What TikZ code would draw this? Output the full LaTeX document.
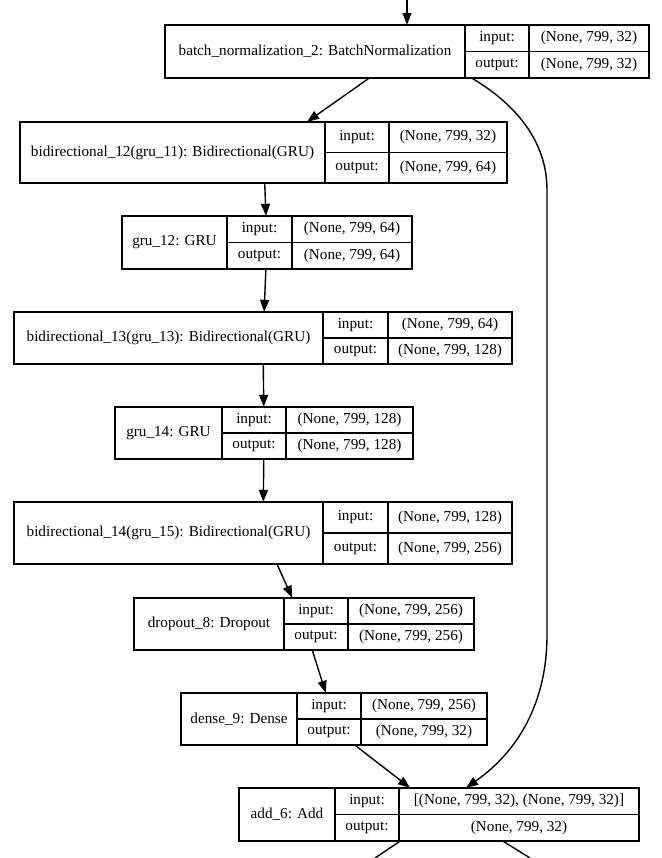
\documentclass[tikz,border=0pt]{standalone}
\usepackage{fontspec}
\setmainfont{Liberation Serif}
\newfontfamily\cellfont{Liberation Serif}
\usetikzlibrary{arrows.meta}
\tikzset{
  cell/.style={draw, line width=1.4pt, inner sep=0pt, font=\cellfont\fontsize{15.2}{18}\selectfont},
  frame/.style={inner sep=0pt, draw=none},
  edge/.style={line width=1.4pt, -{Triangle[length=12pt,width=9pt]}},
  plain/.style={line width=1.4pt},
}
\newcommand\geom[6]{\def\gxa{#1}\def\gxb{#2}\def\gxc{#3}\def\gxd{#4}\def\gya{#5}\def\gyb{#6}}
\newcommand\mklayer[4]{%
  \pgfmathsetmacro\gym{(\gya+\gyb)/2}%
  \node[frame, minimum width={(\gxd-\gxa)*1pt}, minimum height={(\gyb-\gya)*1pt}] (#1) at ({(\gxa+\gxd)/2},{(\gya+\gyb)/2}) {};
  \node[cell, minimum width={(\gxb-\gxa)*1pt}, minimum height={(\gyb-\gya)*1pt}] (#1-t) at ({(\gxa+\gxb)/2},{(\gya+\gyb)/2}) {#2};
  \node[cell, minimum width={(\gxc-\gxb)*1pt}, minimum height={(\gym-\gya)*1pt}] (#1-il) at ({(\gxb+\gxc)/2},{(\gya+\gym)/2}) {input:};
  \node[cell, minimum width={(\gxc-\gxb)*1pt}, minimum height={(\gyb-\gym)*1pt}] (#1-ol) at ({(\gxb+\gxc)/2},{(\gym+\gyb)/2}) {output:};
  \node[cell, minimum width={(\gxd-\gxc)*1pt}, minimum height={(\gym-\gya)*1pt}] (#1-iv) at ({(\gxc+\gxd)/2},{(\gya+\gym)/2}) {#3};
  \node[cell, minimum width={(\gxd-\gxc)*1pt}, minimum height={(\gyb-\gym)*1pt}] (#1-ov) at ({(\gxc+\gxd)/2},{(\gym+\gyb)/2}) {#4};
}
\begin{document}
\begin{tikzpicture}[x=1pt,y=-1pt]
\useasboundingbox[fill=white] (0,0) rectangle (661,858);
\clip (0,0) rectangle (661,858);

\geom{165}{465}{529}{649}{25}{78}
\mklayer{bn}{batch\_normalization\_2: BatchNormalization}{(None, 799, 32)}{(None, 799, 32)}
\geom{20}{325}{389}{507}{122}{183}
\mklayer{bi12}{bidirectional\_12(gru\_11): Bidirectional(GRU)}{(None, 799, 32)}{(None, 799, 64)}
\geom{122}{227}{292}{412}{216}{269}
\mklayer{gru12}{gru\_12: GRU}{(None, 799, 64)}{(None, 799, 64)}
\geom{14}{323}{388}{512}{312}{364}
\mklayer{bi13}{bidirectional\_13(gru\_13): Bidirectional(GRU)}{(None, 799, 64)}{(None, 799, 128)}
\geom{115}{222}{286}{413}{407}{459}
\mklayer{gru14}{gru\_14: GRU}{(None, 799, 128)}{(None, 799, 128)}
\geom{14}{323}{388}{512}{502}{564}
\mklayer{bi14}{bidirectional\_14(gru\_15): Bidirectional(GRU)}{(None, 799, 128)}{(None, 799, 256)}
\geom{134}{284}{348}{474}{598}{650}
\mklayer{drop}{dropout\_8: Dropout}{(None, 799, 256)}{(None, 799, 256)}
\geom{181}{297}{361}{487}{693}{745}
\mklayer{dense}{dense\_9: Dense}{(None, 799, 256)}{(None, 799, 32)}
\geom{239}{335}{399}{639}{788}{841}
\mklayer{add}{add\_6: Add}{[(None, 799, 32), (None, 799, 32)]}{(None, 799, 32)}

\coordinate (in0) at (407,0);
\coordinate (o1) at (375,858);
\coordinate (o2) at (530,858);

\draw[edge] (in0) -- (bn);
\draw[edge] (bn) -- (bi12);
\draw[edge] (bi12) -- (gru12);
\draw[edge] (gru12) -- (bi13);
\draw[edge] (bi13) -- (gru14);
\draw[edge] (gru14) -- (bi14);
\draw[edge] (bi14) -- (drop);
\draw[edge] (drop) -- (dense);
\draw[edge] ([xshift=21pt]dense.south) -- ([xshift=-29pt]add.north);
\draw[edge] ([xshift=65pt]bn.south) .. controls (500,95) and (547,130) .. (547,190)
  -- (547,635) .. controls (547,700) and (520,750) .. ([xshift=27pt]add.north);
\draw[plain] ([xshift=-39pt]add.south) -- (o1);
\draw[plain] ([xshift=64pt]add.south) -- (o2);
\end{tikzpicture}
\end{document}
